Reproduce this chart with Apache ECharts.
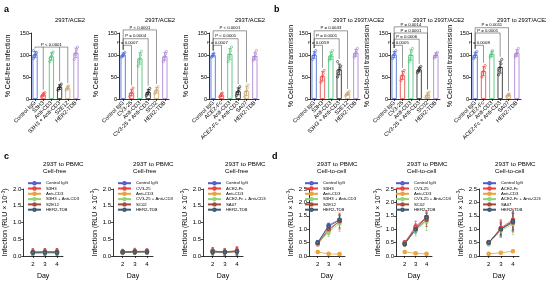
<!DOCTYPE html>
<html><head><meta charset="utf-8">
<script src="https://cdn.jsdelivr.net/npm/echarts@6/dist/echarts.min.js"></script>
<style>html,body{margin:0;padding:0;background:#fff}#c{width:546px;height:281px}</style>
</head><body><div id="c"></div>
<script>
// ================= DATA =================
const catsA1 = ['Control IgG','S3H3','Anti-CD3','S3H3 + Anti-CD3','S2E12','HER2-TDB'];
const catsA2 = ['Control IgG','CV3-25','Anti-CD3','CV3-25 + Anti-CD3','SC02','HER2-TDB'];
const catsA3 = ['Control IgG','ACE2-Fc','Anti-CD3','ACE2-Fc + Anti-CD3','SA07','HER2-TDB'];

// replicate points (% of control)
const ptsA1 = [[92,96,100,103,106,110],[5,8,10,12,15],[85,92,97,102,107],[20,24,27,30,34],[20,24,27,30],[90,100,105,112,118]];
const ptsA2 = [[95,98,100,103,106],[6,10,14,18,25],[75,85,92,100,108],[8,12,15,19,24],[12,16,20,24,28],[85,92,97,103,108]];
const ptsA3 = [[95,98,101,104],[5,8,11,14],[85,95,102,110,118],[8,13,17,22,28],[5,12,18,25,32],[88,92,96,102,110]];
const ptsB1 = [[90,96,100,104,110],[38,45,52,58,65],[88,93,98,103,110],[50,58,65,70,75,85],[8,10,12,14,17],[95,100,105,110,115]];
const ptsB2 = [[92,97,101,105,110],[42,48,54,60,65],[85,92,100,108,115],[60,64,67,70,74],[3,6,9,12,16],[93,97,100,103,106]];
const ptsB3 = [[92,96,100,104,108],[50,57,63,70,76],[95,100,105,110],[55,65,72,80,90],[6,8,10,12],[96,100,104,108,115]];

// significance brackets: drop categories, level (% units), label
const pA1 = [{x:[0,1,3,4], y:118, p:'P < 0.0001'}];
const pA2 = [{x:[0,1], y:122, p:'P = 0.0007'},{x:[0,3], y:137, p:'P = 0.0004'},{x:[0,4], y:157, p:'P < 0.0001'}];
const pA3 = [{x:[0,1], y:122, p:'P = 0.0007'},{x:[0,3], y:137, p:'P < 0.0001'},{x:[0,4], y:155, p:'P < 0.0001'}];
const pB1 = [{x:[0,1], y:122, p:'P = 0.0059'},{x:[0,3], y:137, p:'P = 0.0001'},{x:[0,4], y:155, p:'P = 0.0043'}];
const pB2 = [{x:[0,1], y:122, p:'P = 0.0005'},{x:[0,3], y:136, p:'P = 0.0006'},{x:[0,4], y:150, p:'P = 0.0001'},{x:[0,4], y:164, p:'P = 0.0014'}];
const pB3 = [{x:[0,1], y:122, p:'P = 0.0008'},{x:[0,3], y:150, p:'P = 0.0001'},{x:[0,4], y:162, p:'P = 0.0011'}];

const days = [2,3,4];
const namesC1 = ['Control IgG','S3H3','Anti-CD3','S3H3 + Anti-CD3','S2E12','HER2-TDB'];
const namesC2 = ['Control IgG','CV3-25','Anti-CD3','CV3-25 + Anti-CD3','SC02','HER2-TDB'];
const namesC3 = ['Control IgG','ACE2-Fc','Anti-CD3','ACE2-Fc + Anti-CD3','SA07','HER2-TDB'];

// infection RLU x 10^-3, mean per day, and SD per day
const meanC1 = [[0.10,0.10,0.10],[0.12,0.12,0.12],[0.08,0.10,0.10],[0.10,0.10,0.10],[0.12,0.13,0.13],[0.10,0.10,0.10]];
const sdC1   = [[0.08,0.08,0.08],[0.10,0.10,0.10],[0.06,0.06,0.06],[0.07,0.07,0.07],[0.09,0.09,0.09],[0.06,0.06,0.06]];
const meanC2 = [[0.12,0.13,0.13],[0.12,0.14,0.14],[0.10,0.12,0.12],[0.11,0.12,0.12],[0.12,0.13,0.13],[0.11,0.12,0.12]];
const sdC2   = [[0.07,0.07,0.07],[0.08,0.09,0.08],[0.06,0.07,0.07],[0.06,0.07,0.06],[0.07,0.08,0.07],[0.06,0.06,0.06]];
const meanC3 = [[0.13,0.12,0.14],[0.15,0.12,0.16],[0.12,0.11,0.13],[0.13,0.12,0.14],[0.14,0.12,0.14],[0.12,0.11,0.13]];
const sdC3   = [[0.10,0.09,0.12],[0.10,0.10,0.12],[0.08,0.08,0.10],[0.09,0.09,0.10],[0.10,0.09,0.11],[0.08,0.08,0.09]];
const meanD1 = [[0.50,1.15,1.35],[0.45,0.95,1.30],[0.15,0.08,0.07],[0.45,0.90,1.22],[0.48,1.00,1.30],[0.50,1.10,1.35]];
const sdD1   = [[0.08,0.08,0.15],[0.08,0.15,0.30],[0.05,0.03,0.03],[0.08,0.18,0.30],[0.08,0.15,0.25],[0.08,0.10,0.15]];
const meanD2 = [[0.48,1.05,1.45],[0.50,1.10,1.45],[0.15,0.10,0.08],[0.45,0.95,1.30],[0.45,1.00,1.35],[0.45,1.00,1.45]];
const sdD2   = [[0.08,0.15,0.20],[0.08,0.20,0.25],[0.05,0.03,0.03],[0.08,0.20,0.35],[0.08,0.15,0.25],[0.08,0.12,0.15]];
const meanD3 = [[0.50,1.00,1.30],[0.50,1.05,1.35],[0.08,0.12,0.18],[0.45,0.95,1.20],[0.50,1.00,1.25],[0.50,1.00,1.30]];
const sdD3   = [[0.08,0.30,0.35],[0.08,0.30,0.40],[0.03,0.04,0.05],[0.08,0.25,0.40],[0.08,0.25,0.35],[0.08,0.20,0.30]];

// ================= STYLE / LAYOUT =================
const FONT = 'Liberation Sans, Arial, sans-serif';
const COL_BAR  = ['#3f63d8','#ec3f3a','#3fbf6f','#1b1b1b','#c9a26b','#a57ad0'];
const COL_LINE = ['#4d5fc6','#ec3f3a','#eaa23c','#8fd47a','#a8463a','#3c5a72'];

const topPanels = [
  {cats:catsA1, pts:ptsA1, br:pA1, title:'293T/ACE2', yname:'% Cell-free infection', left:31, width:49, tx:55, ng:19},
  {cats:catsA2, pts:ptsA2, br:pA2, title:'293T/ACE2', yname:'% Cell-free infection', left:119, width:50, tx:145, ng:19},
  {cats:catsA3, pts:ptsA3, br:pA3, title:'293T/ACE2', yname:'% Cell-free infection', left:209, width:50, tx:235, ng:19},
  {cats:catsA1, pts:ptsB1, br:pB1, title:'293T to 293T/ACE2', yname:'% Cell-to-cell transmission', left:310, width:50, tx:333, ng:12},
  {cats:catsA2, pts:ptsB2, br:pB2, title:'293T to 293T/ACE2', yname:'% Cell-to-cell transmission', left:390, width:50, tx:413, ng:19},
  {cats:catsA3, pts:ptsB3, br:pB3, title:'293T to 293T/ACE2', yname:'% Cell-to-cell transmission', left:471, width:50, tx:497, ng:17}
];
const botPanels = [
  {names:namesC1, mean:meanC1, sd:sdC1, ymax:2.0, sub:'Cell-free', left:23, width:40, tx:43, lgx:27},
  {names:namesC2, mean:meanC2, sd:sdC2, ymax:2.0, sub:'Cell-free', left:113, width:40, tx:133, lgx:117},
  {names:namesC3, mean:meanC3, sd:sdC3, ymax:2.0, sub:'Cell-free', left:203, width:40, tx:225, lgx:207},
  {names:namesC1, mean:meanD1, sd:sdD1, ymax:2.5, sub:'Cell-to-cell', left:309, width:36, tx:317, lgx:304},
  {names:namesC2, mean:meanD2, sd:sdD2, ymax:2.5, sub:'Cell-to-cell', left:396, width:36, tx:407, lgx:395},
  {names:namesC3, mean:meanD3, sd:sdD3, ymax:2.5, sub:'Cell-to-cell', left:479, width:40, tx:495, lgx:482}
];

const grid = [], xAxis = [], yAxis = [], series = [], legend = [], graphic = [];
const axLine = {show:true, lineStyle:{color:'#000', width:0.8}};
const axTick = {show:true, length:2, lineStyle:{color:'#000', width:0.7}};

function mean(a){return a.reduce((s,v)=>s+v,0)/a.length;}
function sd(a){const m=mean(a);return Math.sqrt(a.reduce((s,v)=>s+(v-m)*(v-m),0)/(a.length-1));}

function errRender(color, cap){
  return function(params, api){
    const x = api.value(0), m = api.value(1), s = api.value(2);
    const lo = api.coord([x, Math.max(0, m - s)]), hi = api.coord([x, m + s]);
    const st = {stroke:color, lineWidth:0.7};
    return {type:'group', children:[
      {type:'line', shape:{x1:lo[0],y1:lo[1],x2:hi[0],y2:hi[1]}, style:st},
      {type:'line', shape:{x1:hi[0]-cap,y1:hi[1],x2:hi[0]+cap,y2:hi[1]}, style:st},
      {type:'line', shape:{x1:lo[0]-cap,y1:lo[1],x2:lo[0]+cap,y2:lo[1]}, style:st}
    ]};
  };
}

topPanels.forEach((P, gi) => {
  grid.push({left:P.left, top:33, width:P.width, height:66});
  xAxis.push({type:'category', gridIndex:gi, data:P.cats, axisLine:axLine,
    axisTick:Object.assign({alignWithLabel:true}, axTick),
    axisLabel:{interval:0, rotate:45, fontSize:5.6, color:'#000', margin:3, fontFamily:FONT}});
  yAxis.push({type:'value', gridIndex:gi, min:0, max:150, interval:50, axisLine:axLine, axisTick:axTick,
    splitLine:{show:false}, axisLabel:{fontSize:5.6, color:'#000', margin:2, fontFamily:FONT},
    name:P.yname, nameLocation:'middle', nameGap:P.ng, nameTextStyle:{fontSize:7, color:'#000', fontFamily:FONT}});
  const means = P.pts.map(mean), sds = P.pts.map(sd);
  series.push({type:'bar', name:'bars'+gi, xAxisIndex:gi, yAxisIndex:gi, barWidth:'62%', silent:true,
    data: means.map((m,i)=>({value:m, itemStyle:{color:'rgba(255,255,255,0)', borderColor:COL_BAR[i], borderWidth:0.8}}))});
  const pdata = [];
  P.pts.forEach((arr,i)=>arr.forEach((v,k)=>pdata.push([i,v,k])));
  series.push({type:'custom', name:'pts'+gi, xAxisIndex:gi, yAxisIndex:gi, encode:{x:0,y:1}, silent:true,
    data:pdata, renderItem:function(params, api){
      const i = api.value(0), k = api.value(2);
      const p = api.coord([i, api.value(1)]);
      const off = ((k % 5) - 2) * 0.8;
      return {type:'circle', shape:{cx:p[0]+off, cy:p[1], r:1.15},
        style:{fill:'rgba(255,255,255,0.3)', stroke:COL_BAR[i], lineWidth:0.6}};
    }});
  series.push({type:'custom', name:'err'+gi, xAxisIndex:gi, yAxisIndex:gi, encode:{x:0,y:1}, silent:true,
    data: means.map((m,i)=>[i,m,sds[i]]),
    renderItem:function(params, api){
      return errRender(COL_BAR[api.value(0)], 1.5)(params, api);
    }});
  const tops = P.pts.map((a,i)=>Math.max(Math.max(...a), means[i]+sds[i]));
  series.push({type:'custom', name:'br'+gi, xAxisIndex:gi, yAxisIndex:gi, encode:{x:0,y:1}, silent:true, clip:false,
    data: P.br.map((b,j)=>[b.x[0], b.y, j]),
    renderItem:function(params, api){
      const b = P.br[api.value(2)];
      const xs = b.x;
      const l = api.coord([Math.min(...xs), b.y]), r = api.coord([Math.max(...xs), b.y]);
      const st = {stroke:'#333', lineWidth:0.5};
      const ch = [{type:'line', shape:{x1:l[0], y1:l[1], x2:r[0], y2:r[1]}, style:st}];
      xs.forEach(xi => {
        const t = api.coord([xi, b.y]);
        const e = api.coord([xi, Math.min(b.y - 3, tops[xi] + 6)]);
        ch.push({type:'line', shape:{x1:t[0], y1:t[1], x2:t[0], y2:e[1]}, style:st});
      });
      ch.push({type:'text', style:{text:b.p, x:(l[0]+r[0])/2, y:l[1]-0.5, align:'center', verticalAlign:'bottom',
        fontSize:4.3, fontFamily:FONT, fill:'#000'}});
      return {type:'group', children:ch};
    }});
  graphic.push({type:'text', left:P.tx, top:17, style:{text:P.title, fontSize:5.8, fontFamily:FONT, fill:'#000', align:'center'}});
});

botPanels.forEach((P, bi) => {
  const gi = bi + 6;
  grid.push({left:P.left, top:189, width:P.width, height:67});
  xAxis.push({type:'value', gridIndex:gi, min:1.2, max:4.5, axisLine:axLine,
    axisTick:Object.assign({customValues:days}, axTick),
    axisLabel:{customValues:days, fontSize:6, color:'#000', margin:5, fontFamily:FONT},
    splitLine:{show:false},
    name:'Day', nameLocation:'middle', nameGap:17, nameTextStyle:{fontSize:7, color:'#000', fontFamily:FONT}});
  yAxis.push({type:'value', gridIndex:gi, min:0, max:P.ymax, interval:0.5, axisLine:axLine, axisTick:axTick,
    splitLine:{show:false},
    axisLabel:{fontSize:6, color:'#000', margin:2, fontFamily:FONT, formatter:v=>v.toFixed(1)},
    name:'Infection (RLU × 10{s|−3})', nameLocation:'middle', nameGap:13,
    nameTextStyle:{fontSize:7, color:'#000', fontFamily:FONT, rich:{s:{fontSize:4.5, verticalAlign:'top', padding:[0,0,4,0], fontFamily:FONT}}}});
  P.names.forEach((nm, si) => {
    series.push({type:'line', name:nm, xAxisIndex:gi, yAxisIndex:gi, symbol:'emptyCircle', symbolSize:2.6,
      color:COL_LINE[si], lineStyle:{width:0.8, color:COL_LINE[si]}, itemStyle:{color:COL_LINE[si], borderWidth:0.6},
      data: days.map((d,k)=>[d, P.mean[si][k]]), silent:true, z:3});
    series.push({type:'custom', name:'e'+gi+'_'+si, xAxisIndex:gi, yAxisIndex:gi, encode:{x:0,y:1}, silent:true,
      data: days.map((d,k)=>[d, P.mean[si][k], P.sd[si][k]]), renderItem:errRender(COL_LINE[si], 1.2), z:2});
  });
  legend.push({show:true, orient:'vertical', left:P.lgx, top:181, itemWidth:13, itemHeight:3, itemGap:0.9,
    padding:0, selectedMode:false, data:P.names.slice(),
    textStyle:{fontSize:4.3, color:'#000', fontFamily:FONT, lineHeight:4}});
  graphic.push({type:'text', left:P.tx, top:161, style:{text:'293T to PBMC', fontSize:6.2, fontFamily:FONT, fill:'#000', align:'center'}});
  graphic.push({type:'text', left:P.tx, top:168, style:{text:P.sub, fontSize:6.2, fontFamily:FONT, fill:'#000', align:'center'}});
});

[['a',4,5],['b',274,5],['c',4,152],['d',272,152]].forEach(([t,x,y]) =>
  graphic.push({type:'text', left:x, top:y, style:{text:t, fontSize:9, fontWeight:'bold', fontFamily:FONT, fill:'#000'}}));

const chart = echarts.init(document.getElementById('c'), null, {renderer:'canvas'});
chart.setOption({animation:false, backgroundColor:'#fff', grid, xAxis, yAxis, series, legend, graphic});
</script></body></html>
